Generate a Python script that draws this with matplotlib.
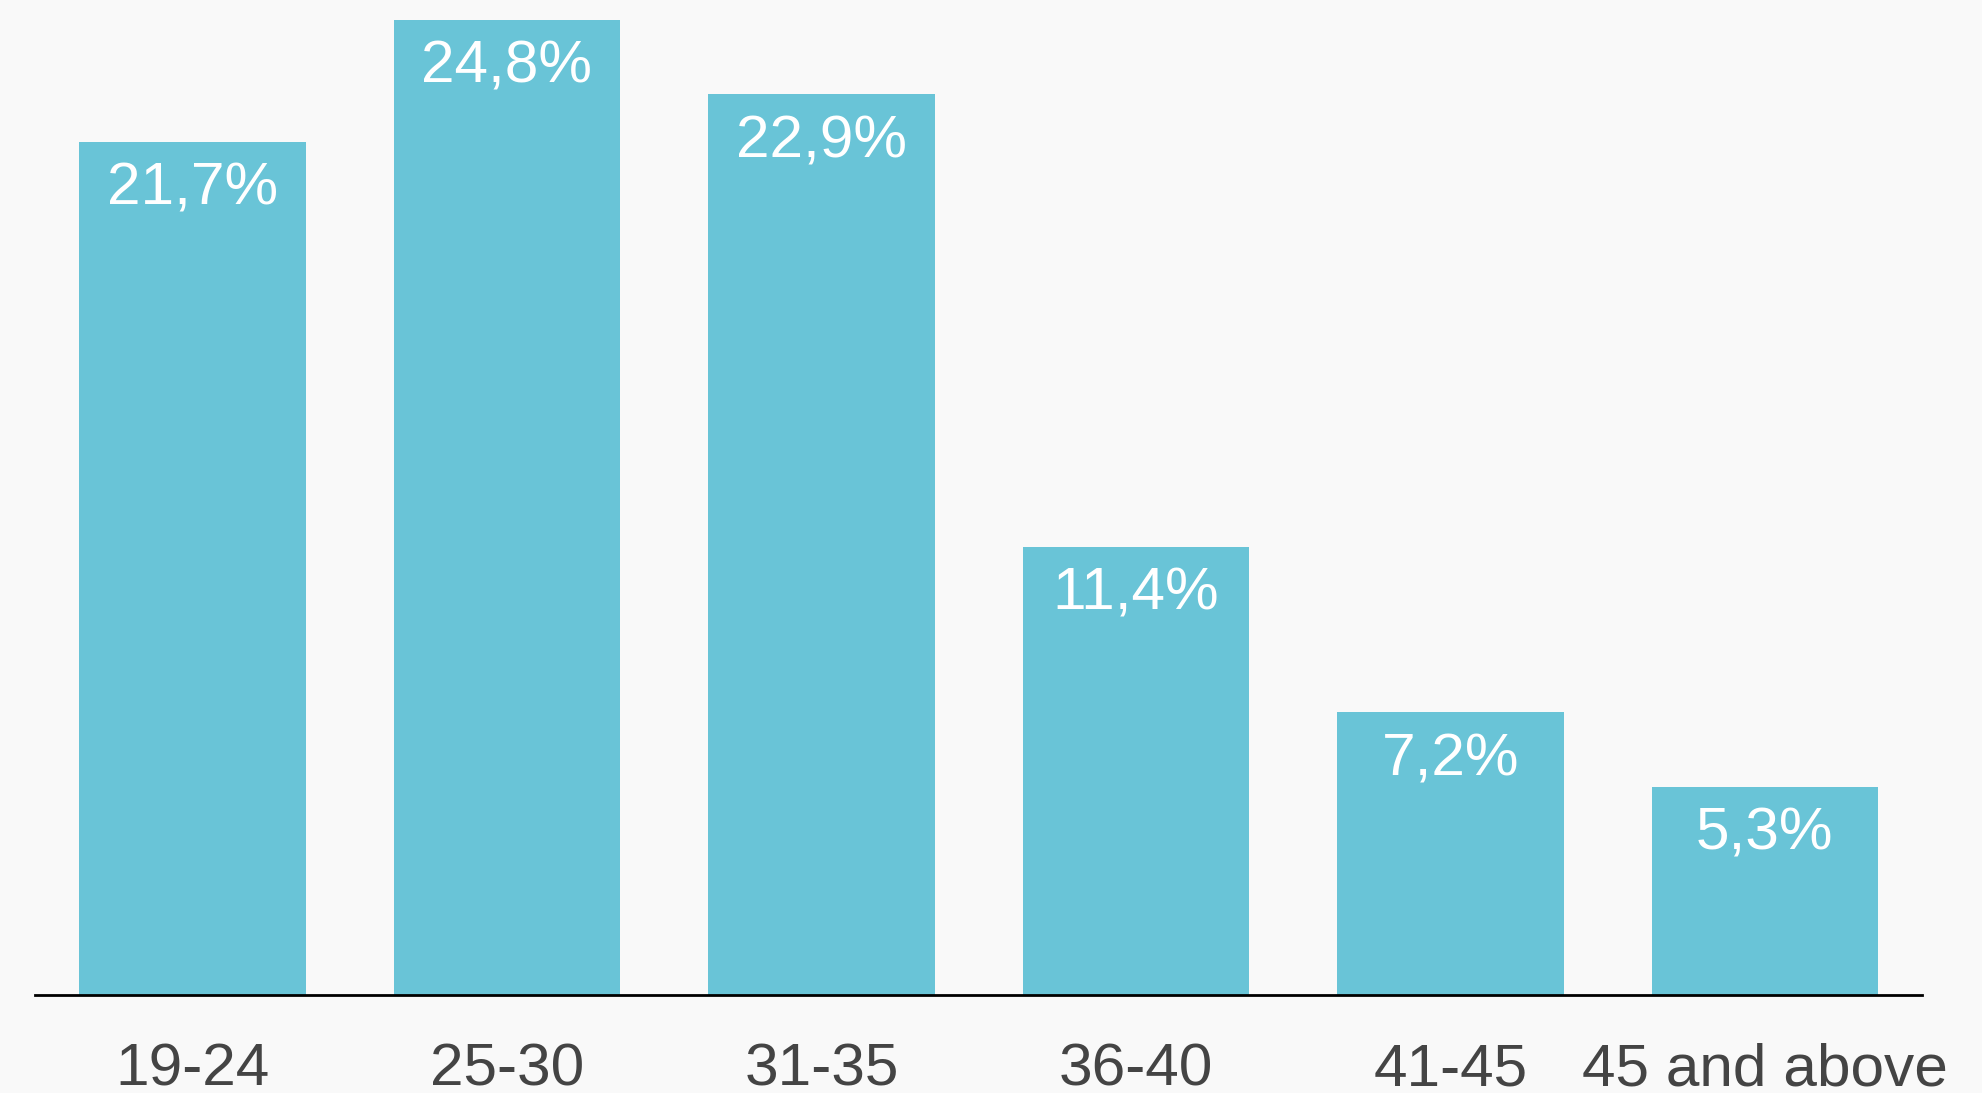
import matplotlib.pyplot as plt

# Dados do gráfico
age_groups = ['19-24', '25-30', '31-35', '36-40', '41-45', '45 and above']
shares = [21.7, 24.8, 22.9, 11.4, 7.2, 5.3]
share_labels = ['21,7%', '24,8%', '22,9%', '11,4%', '7,2%', '5,3%']

bar_color = '#69c4d7'
bg_color = '#f9f9f9'

plt.rcParams['font.family'] = ['Liberation Sans', 'DejaVu Sans']

fig = plt.figure(figsize=(19.83, 10.93), dpi=100, facecolor=bg_color)
ax = fig.add_axes([0.0177, 0.0897, 0.9516, 0.9103])
ax.set_facecolor(bg_color)

x = range(len(age_groups))
bars = ax.bar(x, shares, width=0.72, color=bar_color, zorder=1)

# Rótulos de valor dentro das barras
for bar, label in zip(bars, share_labels):
    ax.annotate(label, (bar.get_x() + bar.get_width() / 2, bar.get_height()),
                xytext=(0, -45.5), textcoords='offset points',
                ha='center', va='baseline', color='white', fontsize=43.5)

ax.set_xlim(-0.5, 5.5)
ax.set_ylim(0, 25.3)

ax.set_xticks(list(x))
ax.set_xticklabels(age_groups, fontsize=43.5, color='#444444')
ax.tick_params(axis='x', length=0, pad=65)
for lbl in ax.get_xticklabels():
    lbl.set_va('baseline')
ax.set_yticks([])

for side in ['top', 'right', 'left']:
    ax.spines[side].set_visible(False)
ax.spines['bottom'].set_color('black')
ax.spines['bottom'].set_linewidth(2)

fig.savefig('out.png', dpi=100, facecolor=bg_color)
